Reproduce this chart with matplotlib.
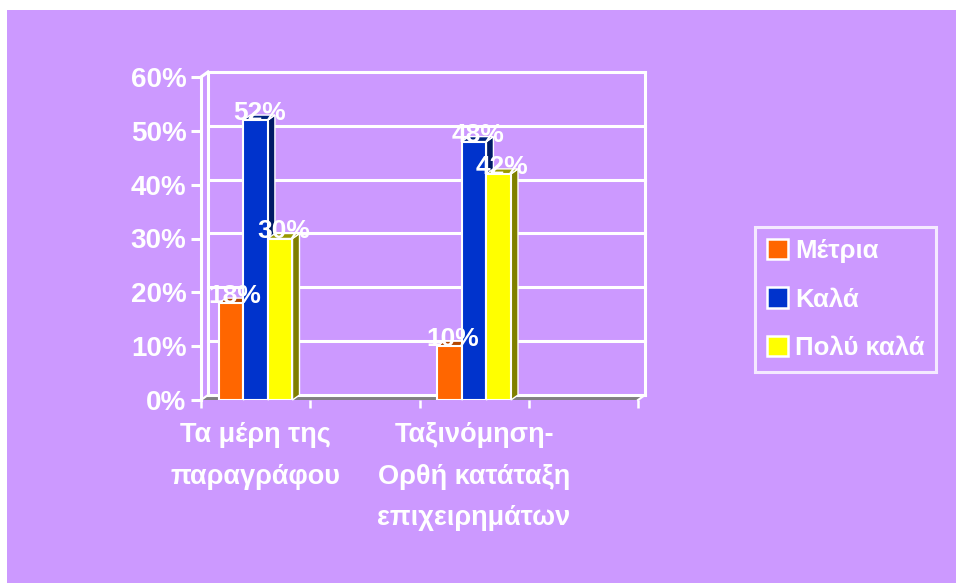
import matplotlib
matplotlib.use("Agg")
import matplotlib.pyplot as plt
from matplotlib.patches import Rectangle, Polygon, Patch
import numpy as np

plt.rcParams['font.family'] = ['Liberation Sans', 'DejaVu Sans']
plt.rcParams['font.weight'] = 'bold'

categories = ["Τα μέρη της\nπαραγράφου", "Ταξινόμηση-\nΟρθή κατάταξη\nεπιχειρημάτων"]
series_names = ["Μέτρια", "Καλά", "Πολύ καλά"]
metria = [0.18, 0.10]
kala = [0.52, 0.48]
poly_kala = [0.30, 0.42]
value_labels = [["18%", "10%"], ["52%", "48%"], ["30%", "42%"]]
y_ticks = [0.0, 0.1, 0.2, 0.3, 0.4, 0.5, 0.6]
y_tick_labels = ["0%", "10%", "20%", "30%", "40%", "50%", "60%"]

face_colors = ["#FF6600", "#0033CC", "#FFFF00"]
side_colors = ["#993300", "#001A66", "#808000"]
top_colors = ["#B34700", "#00237F", "#999900"]
BG = "#CC99FF"
W = 956
H = 583

fig = plt.figure(figsize=(W / 100, H / 100), dpi=100, facecolor="white")
fig.patches.append(Rectangle((7 / W, 0), 1 - 7 / W, 1 - 10 / H, transform=fig.transFigure,
                             facecolor=BG, edgecolor="none", zorder=-10))

ax = fig.add_axes([201 / W, 1 - 400 / H, 437 / W, 323 / H])
ax.set_facecolor("none")
ax.set_xlim(-0.5, 3.5)
ax.set_ylim(0, 0.6)
for s in ax.spines.values():
    s.set_visible(False)

# 3D depth offset in data units (7 px right, 5 px up)
p0 = ax.transData.transform((0, 0))
dx, dy = ax.transData.inverted().transform(p0 + np.array([7, 5]))

# floor
ax.add_patch(Polygon([(-0.5, 0), (3.5, 0), (3.5 + dx, dy), (-0.5 + dx, dy)], closed=True,
                     facecolor="#808080", edgecolor="none", zorder=1, clip_on=False))
# back wall gridlines
for yv in y_ticks:
    ax.plot([-0.5 + dx, 3.5 + dx], [yv + dy, yv + dy], color="white", lw=2.2, zorder=1.5,
            clip_on=False, solid_capstyle="projecting")
ax.plot([-0.5 + dx, -0.5 + dx], [dy, 0.6 + dy], color="white", lw=2.2, zorder=1.5, clip_on=False)
ax.plot([3.5 + dx, 3.5 + dx], [dy, 0.6 + dy], color="white", lw=2.2, zorder=1.5, clip_on=False)
# front y axis and connectors
ax.plot([-0.5, -0.5], [0, 0.6], color="white", lw=2.2, zorder=5, clip_on=False)
ax.plot([-0.5, -0.5 + dx], [0.6, 0.6 + dy], color="white", lw=2.2, zorder=5, clip_on=False)
ax.plot([-0.5, -0.5 + dx], [0, dy], color="white", lw=1.5, zorder=5, clip_on=False)
ax.plot([3.5, 3.5 + dx], [0, dy], color="white", lw=1.5, zorder=5, clip_on=False)

# bars
positions = np.arange(len(categories)) * 2.0
bw = 0.225
all_series = [metria, kala, poly_kala]
for i, vals in enumerate(all_series):
    xs = positions + (i - 1) * bw
    bars = ax.bar(xs, vals, width=bw, color=face_colors[i], edgecolor="white", linewidth=1.5,
                  zorder=3 + i * 0.1, label=series_names[i])
    for b in bars:
        x0 = b.get_x()
        x1 = x0 + b.get_width()
        v = b.get_height()
        ax.add_patch(Polygon([(x1, 0), (x1 + dx, dy), (x1 + dx, v + dy), (x1, v)], closed=True,
                             facecolor=side_colors[i], edgecolor="white", lw=1.0,
                             zorder=2.9 + i * 0.1, clip_on=False))
        ax.add_patch(Polygon([(x0, v), (x0 + dx, v + dy), (x1 + dx, v + dy), (x1, v)], closed=True,
                             facecolor=top_colors[i], edgecolor="white", lw=1.0,
                             zorder=2.95 + i * 0.1, clip_on=False))

# data labels
for i, vals in enumerate(all_series):
    xs = positions + (i - 1) * bw
    for x, v, lab in zip(xs, vals, value_labels[i]):
        ax.text(x + dx / 2, v + dy * 1.4, lab, ha="center", va="center", color="white",
                fontsize=19, fontweight="bold", zorder=10, clip_on=False)

# y ticks
ax.set_yticks(y_ticks)
ax.set_yticklabels(y_tick_labels)
ax.tick_params(axis="y", colors="white", length=7, width=2.2, pad=3.5, labelsize=20, left=True)
for t in ax.get_yticklabels():
    t.set_fontweight("bold")

# x ticks: boundaries (major) and category labels (minor)
ax.set_xticks(np.arange(-0.5, 3.6, 1.0))
ax.set_xticklabels([""] * 5)
ax.tick_params(axis="x", which="major", colors="white", length=5.5, width=1.8, direction="out")
ax.set_xticks(positions, minor=True)
ax.set_xticklabels(categories, minor=True)
ax.tick_params(axis="x", which="minor", length=0, pad=16, labelsize=19.5, labelcolor="white")
for t in ax.get_xticklabels(minor=True):
    t.set_fontweight("bold")
    t.set_linespacing(1.78)
    t.set_verticalalignment("top")

# legend
handles = [Patch(facecolor=face_colors[i], edgecolor="white", linewidth=1.8, label=series_names[i])
           for i in range(3)]
leg = fig.legend(handles=handles, loc="center left", bbox_to_anchor=(755 / W, 1 - 299.5 / H),
                 frameon=True, fancybox=False, facecolor="none", edgecolor="white",
                 prop={"size": 18.5, "weight": "bold"}, labelcolor="white",
                 handlelength=0.85, handleheight=0.85, handletextpad=0.25, labelspacing=0.95,
                 borderpad=0.45, borderaxespad=0)
leg.get_frame().set_linewidth(2.2)

fig.savefig("out.png", dpi=100, facecolor=fig.get_facecolor())
